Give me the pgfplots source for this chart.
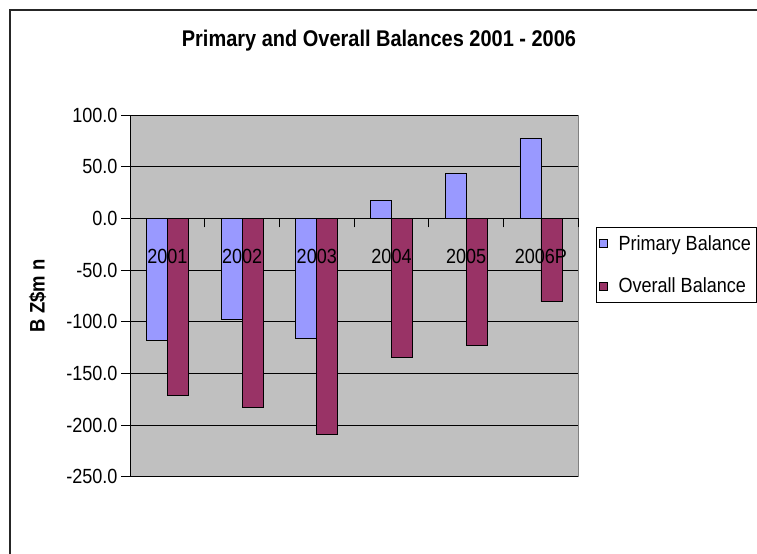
\documentclass[border=0pt]{standalone}
\usepackage{fontspec}
\setmainfont{Liberation Sans}[FakeStretch=0.88]
\usepackage{pgfplots}
\pgfplotsset{compat=1.18}
\definecolor{primbar}{HTML}{9999FF}
\definecolor{overbar}{HTML}{993366}
\definecolor{plotbg}{HTML}{C0C0C0}
\definecolor{boxgray}{HTML}{808080}
\pgfplotsset{
  chartframe/.style={
    at={(130bp,77.3bp)}, anchor=south west,
    width=448.3bp, height=361.7bp, scale only axis,
    xmin=-0.5, xmax=5.5, ymin=-250, ymax=100,
  },
}

\begin{document}
\begin{tikzpicture}
\useasboundingbox (0,0) rectangle (757bp,554bp);
\draw[black!85, line width=1.5bp] (10bp,0) -- (10bp,544bp) -- (757bp,544bp);
\begin{axis}[
  chartframe,
  ybar=0pt, bar width=21bp,
  axis x line*=middle, axis y line*=left,
  axis line style={black, line width=0.8bp},
  axis background/.style={fill=plotbg, draw=boxgray, line width=0.8bp},
  tick align=outside, major tick length=9bp,
  tick style={black, line width=0.8bp},
  xtick={-0.5,0.5,...,5.5},
  xticklabels={},
  ytick={-250,-200,...,100},
  yticklabels={-250.0,-200.0,-150.0,-100.0,-50.0,0.0,50.0,100.0},
  ymajorgrids, grid style={black, line width=0.6bp},
  tick label style={font=\fontsize{20.5bp}{23bp}\selectfont},
  ylabel={B Z\$m n},
  ylabel style={at={(-0.2063,0.5)}, anchor=center, font=\fontsize{21bp}{24bp}\selectfont\bfseries},
  title={Primary and Overall Balances 2001 - 2006},
  title style={at={(0.5554,1.188)}, anchor=center, font=\fontsize{22.7bp}{26bp}\selectfont\bfseries},
  legend style={at={(1.0388,0.6903)}, anchor=north west, draw=black, line width=0.6bp,
    font=\fontsize{20.5bp}{23bp}\selectfont, inner xsep=3bp, inner ysep=6bp, row sep=22bp,
    column sep=9bp, nodes={inner sep=2bp}},
  legend cell align=left,
]
\addplot[fill=primbar, draw=black, line width=0.6bp,
  legend image code/.code={\draw[fill=primbar, draw=black, line width=0.6bp] (0bp,-4bp) rectangle (8bp,4bp);}]
  coordinates {(0,-117.8) (1,-97.7) (2,-116.3) (3,17.0) (4,43.5) (5,77.4)};
\addlegendentry{Primary Balance}
\addplot[fill=overbar, draw=black, line width=0.6bp,
  legend image code/.code={\draw[fill=overbar, draw=black, line width=0.6bp] (0bp,-4bp) rectangle (8bp,4bp);}]
  coordinates {(0,-171.0) (1,-182.9) (2,-209.0) (3,-134.9) (4,-122.6) (5,-80.7)};
\addlegendentry{Overall Balance}
\end{axis}
% category names sit on top of the bars, as in the original
\begin{axis}[
  chartframe,
  axis x line*=middle, hide y axis,
  hide obscured x ticks=false,
  axis line style={draw=none},
  xtick={-0.5,0.5,...,5.5},
  x tick label as interval,
  xticklabels={2001,2002,2003,2004,2005,2006P},
  xtick style={draw=none},
  xticklabel style={anchor=center, yshift=-38bp, font=\fontsize{20.5bp}{23bp}\selectfont},
]
\end{axis}
\end{tikzpicture}
\end{document}
